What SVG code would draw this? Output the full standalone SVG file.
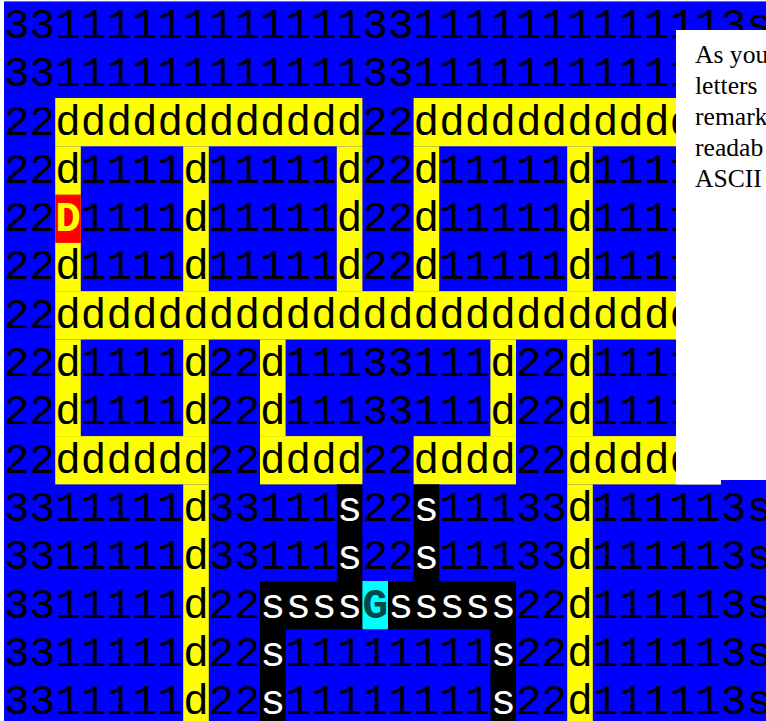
<svg xmlns="http://www.w3.org/2000/svg" width="766" height="721" viewBox="0 0 766 721">
<style>
.g{font-family:"Liberation Mono","Courier New",monospace;font-size:42.67px;fill:#000}
.w{fill:#fff}
.b{font-weight:bold}
.y{fill:#ffff00}
.t{fill:#004848}
.note{font-family:"Liberation Serif","Times New Roman",serif;font-size:25.6px;fill:#000}
</style>
<rect width="766" height="721" fill="#fff"/>
<g id="background">
<rect x="4" y="1.4" width="770" height="725" fill="#0000ff"/>
</g>
<g id="yellow" fill="#ffff00">
<rect x="55.2" y="98" width="307.2" height="48.3"/>
<rect x="413.6" y="98" width="307.2" height="48.3"/>
<rect x="55.2" y="146.3" width="25.6" height="145"/>
<rect x="183.2" y="146.3" width="25.6" height="145"/>
<rect x="336.8" y="146.3" width="25.6" height="145"/>
<rect x="413.6" y="146.3" width="25.6" height="145"/>
<rect x="567.2" y="146.3" width="25.6" height="145"/>
<rect x="695.2" y="146.3" width="25.6" height="145"/>
<rect x="55.2" y="291.2" width="665.6" height="48.3"/>
<rect x="55.2" y="339.5" width="25.6" height="96.7"/>
<rect x="183.2" y="339.5" width="25.6" height="96.7"/>
<rect x="260" y="339.5" width="25.6" height="96.7"/>
<rect x="490.4" y="339.5" width="25.6" height="96.7"/>
<rect x="567.2" y="339.5" width="25.6" height="96.7"/>
<rect x="695.2" y="339.5" width="25.6" height="96.7"/>
<rect x="55.2" y="436.1" width="153.6" height="48.3"/>
<rect x="260" y="436.1" width="102.4" height="48.3"/>
<rect x="413.6" y="436.1" width="102.4" height="48.3"/>
<rect x="567.2" y="436.1" width="153.6" height="48.3"/>
<rect x="183.2" y="484.4" width="25.6" height="242"/>
<rect x="567.2" y="484.4" width="25.6" height="242"/>
</g>
<g id="black-path" fill="#000">
<rect x="336.8" y="484.4" width="25.6" height="96.7"/>
<rect x="413.6" y="484.4" width="25.6" height="96.7"/>
<rect x="260" y="581" width="256" height="48.3"/>
<rect x="260" y="629.3" width="25.6" height="97"/>
<rect x="490.4" y="629.3" width="25.6" height="97"/>
</g>
<g id="markers">
<rect x="55.2" y="194.6" width="25.6" height="48.3" fill="#ff0000"/>
<rect x="362.4" y="581" width="25.6" height="48.3" fill="#00ffff"/>
</g>
<g id="grid-text" class="g">
<text x="4" y="37.9">33111111111111331111111111113s</text>
<text x="4" y="86.2">33111111111111331111111111113s</text>
<text x="4" y="134.5">22dddddddddddd22dddddddddddd22</text>
<text x="4" y="182.8">22d1111d11111d22d11111d1111d22</text>
<text x="4" y="231.1">22<tspan class="b y">D</tspan>1111d11111d22d11111d1111d22</text>
<text x="4" y="279.4">22d1111d11111d22d11111d1111d22</text>
<text x="4" y="327.7">22dddddddddddddddddddddddddd22</text>
<text x="4" y="376">22d1111d22d11133111d22d1111d22</text>
<text x="4" y="424.3">22d1111d22d11133111d22d1111d22</text>
<text x="4" y="472.6">22dddddd22dddd22dddd22dddddd22</text>
<text x="4" y="520.9">3311111d33111<tspan class="w">s</tspan>22<tspan class="w">s</tspan>11133d111113s</text>
<text x="4" y="569.2">3311111d33111<tspan class="w">s</tspan>22<tspan class="w">s</tspan>11133d111113s</text>
<text x="4" y="617.5">3311111d22<tspan class="w">ssss</tspan><tspan class="b t">G</tspan><tspan class="w">sssss</tspan>22d111113s</text>
<text x="4" y="665.8">3311111d22<tspan class="w">s</tspan>11111111<tspan class="w">s</tspan>22d111113s</text>
<text x="4" y="714.1">3311111d22<tspan class="w">s</tspan>11111111<tspan class="w">s</tspan>22d111113s</text>
</g>
<g id="note">
<rect x="676" y="30" width="100" height="450" fill="#fff"/>
<rect x="676" y="479" width="44.8" height="5.4" fill="#fff"/>
<text class="note" x="695" y="63">As you</text>
<text class="note" x="695" y="94">letters</text>
<text class="note" x="695" y="125">remark</text>
<text class="note" x="695" y="156">readab</text>
<text class="note" x="695" y="187">ASCII</text>
</g>
</svg>
